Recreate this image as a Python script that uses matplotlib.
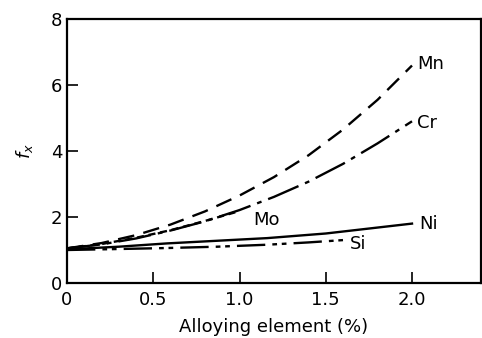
import matplotlib
matplotlib.use("Agg")
import matplotlib.pyplot as plt

plt.rc('font', family='DejaVu Sans', size=13)

# values
mn_x = [0.0, 0.2, 0.4, 0.6, 0.8, 1.0, 1.2, 1.4, 1.6, 1.8, 2.0]
mn_y = [1.05, 1.21, 1.45, 1.77, 2.17, 2.65, 3.21, 3.87, 4.65, 5.55, 6.59]
cr_x = [0.0, 0.2, 0.4, 0.6, 0.8, 1.0, 1.2, 1.4, 1.6, 1.8, 2.0]
cr_y = [1.05, 1.17, 1.35, 1.59, 1.87, 2.21, 2.61, 3.07, 3.61, 4.23, 4.9]
mo_x = [0.0, 0.2, 0.4, 0.6, 0.8, 1.0]
mo_y = [1.05, 1.18, 1.37, 1.6, 1.88, 2.18]
ni_x = [0.0, 0.3, 0.58, 0.87, 1.16, 1.5, 1.75, 2.0]
ni_y = [1.02, 1.1, 1.2, 1.28, 1.36, 1.5, 1.65, 1.8]
si_x = [0.0, 0.3, 0.58, 0.87, 1.16, 1.4, 1.6]
si_y = [1.0, 1.03, 1.06, 1.1, 1.16, 1.23, 1.3]

labels = ['Mn', 'Cr', 'Mo', 'Ni', 'Si']
label_x = [2.03, 2.03, 1.08, 2.04, 1.64]
label_y = [6.65, 4.85, 1.92, 1.78, 1.17]

fig = plt.figure(figsize=(4.82, 3.38), dpi=100)
ax = fig.add_axes([67/482, 1 - 283/338, 414/482, 264/338])

lw = 1.7
ax.plot(mn_x, mn_y, color='black', lw=lw, dashes=(7, 4))
ax.plot(cr_x, cr_y, color='black', lw=lw, dashes=(14, 3, 2, 3))
ax.plot(mo_x, mo_y, color='black', lw=lw, dashes=(3, 2))
ax.plot(ni_x, ni_y, color='black', lw=lw)
ax.plot(si_x, si_y, color='black', lw=lw, dashes=(12, 3, 2, 2, 2, 3))

for t, x, y in zip(labels, label_x, label_y):
    ax.text(x, y, t, ha='left', va='center', fontsize=13)

ax.set_xlim(0, 2.4)
ax.set_ylim(0, 8)
ax.set_xticks([0, 0.5, 1.0, 1.5, 2.0])
ax.set_xticklabels(['0', '0.5', '1.0', '1.5', '2.0'])
ax.set_yticks([0, 2, 4, 6, 8])
ax.tick_params(direction='in', length=8, width=1.2)
ax.tick_params(axis='x', pad=6)
ax.set_xlabel('Alloying element (%)', labelpad=6)
ax.set_ylabel('$f_x$', labelpad=11)
for s in ax.spines.values():
    s.set_linewidth(1.6)

fig.savefig('out.png', dpi=100)
